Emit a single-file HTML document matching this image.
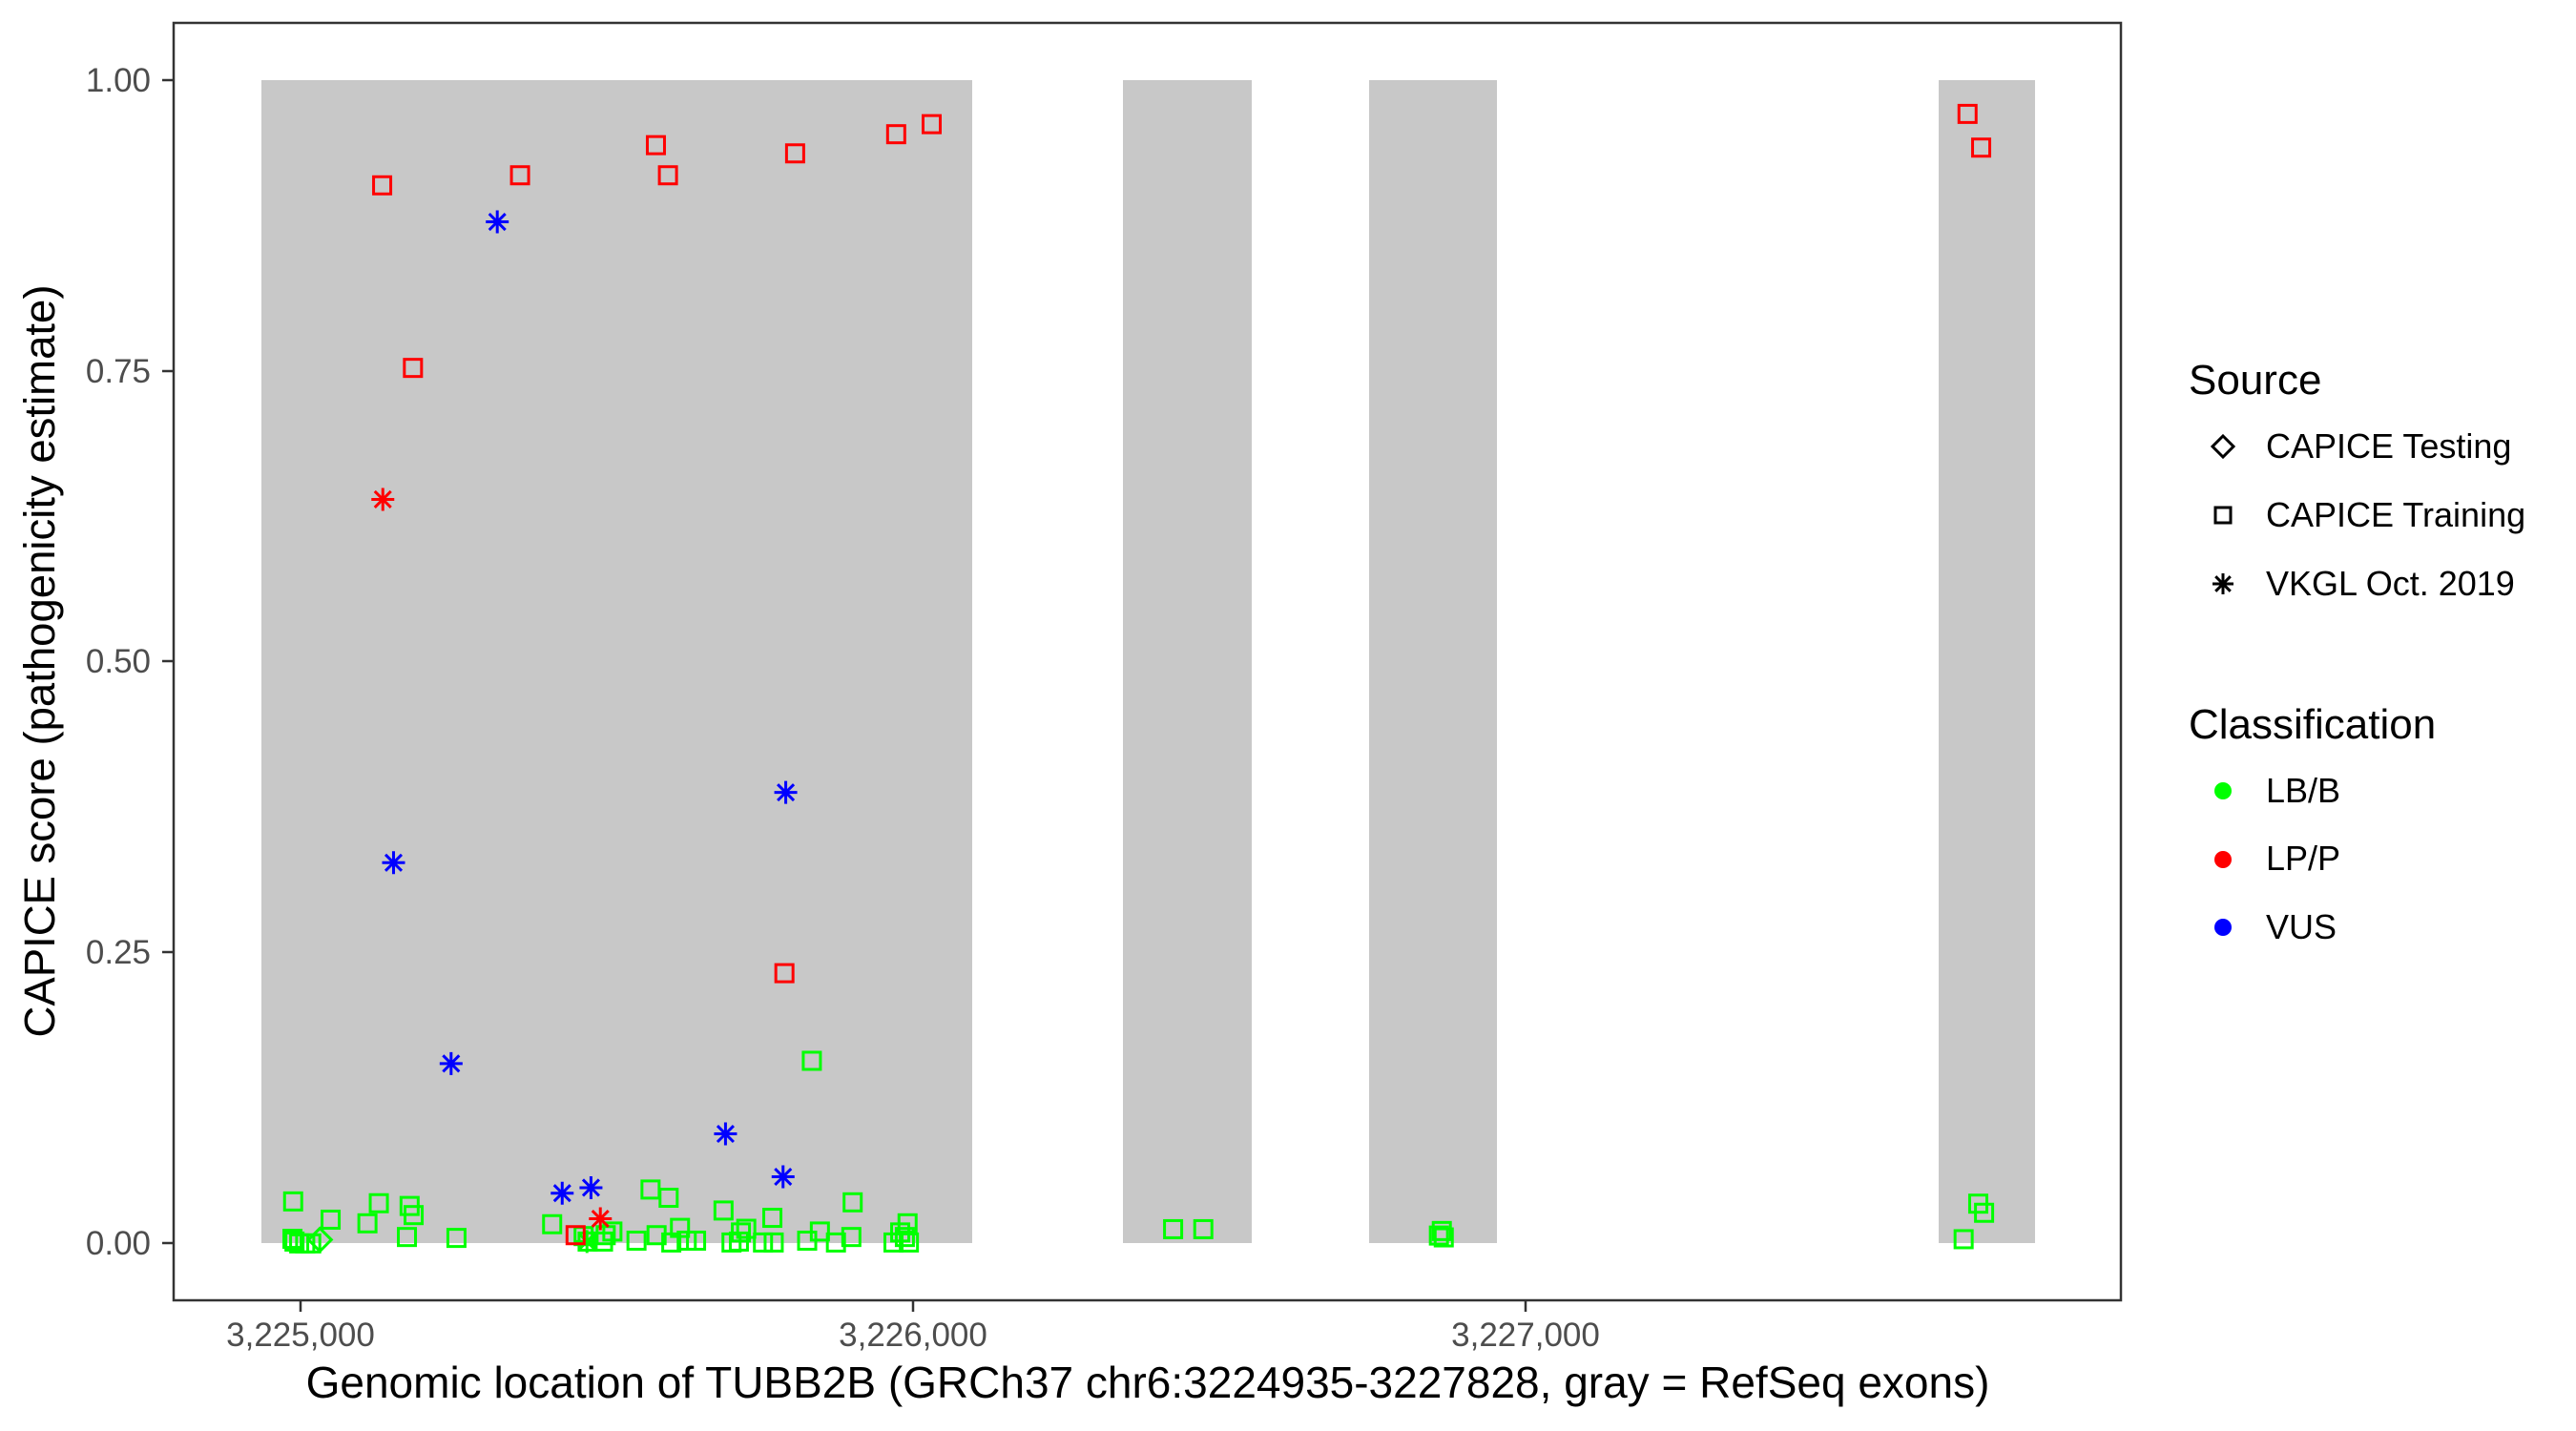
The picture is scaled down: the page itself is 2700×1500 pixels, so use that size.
<!DOCTYPE html>
<html><head><meta charset="utf-8"><style>
html,body{margin:0;padding:0;background:#fff;}
svg{display:block;font-family:"Liberation Sans",Arial,sans-serif;}
</style></head><body>
<svg id="s" width="2700" height="1500" xmlns="http://www.w3.org/2000/svg">
<rect x="0" y="0" width="2700" height="1500" fill="#fff"/>
<g fill="#c8c8c8">
<rect x="274" y="84" width="745" height="1219"/>
<rect x="1177" y="84" width="135" height="1219"/>
<rect x="1435" y="84" width="134" height="1219"/>
<rect x="2032" y="84" width="101" height="1219"/>
</g>
<g id="pts"></g>
<rect x="182" y="24" width="2041" height="1339" fill="none" stroke="#333" stroke-width="2.5"/>
<g stroke="#333" stroke-width="2.5">
<line x1="170" y1="84" x2="182" y2="84"/><line x1="170" y1="389" x2="182" y2="389"/>
<line x1="170" y1="693" x2="182" y2="693"/><line x1="170" y1="998" x2="182" y2="998"/>
<line x1="170" y1="1303" x2="182" y2="1303"/>
<line x1="315" y1="1363" x2="315" y2="1375"/><line x1="957" y1="1363" x2="957" y2="1375"/>
<line x1="1599" y1="1363" x2="1599" y2="1375"/>
</g>
<g fill="#4d4d4d" font-size="35" text-anchor="end">
<text x="158" y="96">1.00</text><text x="158" y="401">0.75</text>
<text x="158" y="705">0.50</text><text x="158" y="1010">0.25</text>
<text x="158" y="1315">0.00</text>
</g>
<g fill="#4d4d4d" font-size="35" text-anchor="middle">
<text x="315" y="1411">3,225,000</text><text x="957" y="1411">3,226,000</text><text x="1599" y="1411">3,227,000</text>
</g>
<text x="1203" y="1465" font-size="46" text-anchor="middle" fill="#000">Genomic location of TUBB2B (GRCh37 chr6:3224935-3227828, gray = RefSeq exons)</text>
<text transform="translate(57,693) rotate(-90)" font-size="45.5" text-anchor="middle" fill="#000">CAPICE score (pathogenicity estimate)</text>
<g font-size="44" fill="#000"><text x="2294" y="413">Source</text><text x="2294" y="774">Classification</text></g>
<g font-size="36" fill="#000">
<text x="2375" y="480">CAPICE Testing</text><text x="2375" y="552">CAPICE Training</text><text x="2375" y="624">VKGL Oct. 2019</text>
<text x="2375" y="841">LB/B</text><text x="2375" y="912">LP/P</text><text x="2375" y="984">VUS</text>
</g>
<g id="leg"></g>
</svg>
<script>
var NS="http://www.w3.org/2000/svg";
function el(p,t,a){var e=document.createElementNS(NS,t);for(var k in a)e.setAttribute(k,a[k]);p.appendChild(e);return e;}
var G=document.getElementById("pts"),L=document.getElementById("leg");
function sq(p,x,y,c,s){s=s||9;el(p,"rect",{x:x-s,y:y-s,width:2*s,height:2*s,fill:"none",stroke:c,"stroke-width":3});}
function di(p,x,y,c,s){s=s||12;el(p,"polygon",{points:(x)+","+(y-s)+" "+(x+s)+","+y+" "+x+","+(y+s)+" "+(x-s)+","+y,fill:"none",stroke:c,"stroke-width":3});}
function ast(p,x,y,c,s){s=s||12;var d=s*0.707;
el(p,"path",{d:"M"+(x-s)+" "+y+"H"+(x+s)+"M"+x+" "+(y-s)+"V"+(y+s)+"M"+(x-d)+" "+(y-d)+"L"+(x+d)+" "+(y+d)+"M"+(x-d)+" "+(y+d)+"L"+(x+d)+" "+(y-d),stroke:c,"stroke-width":3,fill:"none"});}
function z1(a){return [a[0]/1.4255,a[1]/1.045];}
function z2(a){return [1100+a[0]/0.98,a[1]/1.047];}
var R="#ff0000",B="#0000ff",Gn="#00ff00";
var gsq=[[438,1316],[437,1357],[440,1360],[447,1362],[456,1362],[465,1362],[494,1336],[549,1340],[566,1318],[612,1321],[618,1331],[608,1355],[682,1356],[825,1341],[872,1354],[878,1360],[905,1353],[915,1349],[901,1360],[951,1359],[972,1303],[981,1353],[999,1312],[1003,1361],[1016,1345],[1026,1359],[1040,1359],[1081,1326],[1093,1361],[1104,1360],[1107,1350],[1115,1346],[1140,1361],[1154,1334],[1156,1361],[1206,1359],[1213,1162],[1225,1349],[1249,1361],[1272,1355],[1274,1317],[1335,1361],[1345,1350],[1356,1340],[1358,1361],[1352,1355]];
gsq.forEach(function(a){var p=z1(a);sq(G,p[0],p[1],Gn);});
[[127,1349],[158,1349],[403,1351],[405,1358],[400,1356],[954,1321],[960,1331],[939,1360]].forEach(function(a){var p=z2(a);sq(G,p[0],p[1],Gn);});
var p=z1([478,1358]);di(G,p[0],p[1],Gn);
p=z1([877,1360]);ast(G,p[0],p[1],Gn);
[[571,203],[777,192],[980,159],[998,192],[1188,168],[1339,147],[1392,136],[617,403],[1172,1066],[860,1353]].forEach(function(a){var p=z1(a);sq(G,p[0],p[1],R);});
[[943,125],[957,162]].forEach(function(a){var p=z2(a);sq(G,p[0],p[1],R);});
[[572,547],[897,1335]].forEach(function(a){var p=z1(a);ast(G,p[0],p[1],R);});
[[743,243],[588,945],[674,1165],[840,1307],[883,1301],[1084,1242],[1174,868],[1170,1289]].forEach(function(a){var p=z1(a);ast(G,p[0],p[1],B);});
di(L,2330,468,"#000",11);sq(L,2330,540,"#000",8);ast(L,2330,612,"#000",11);
el(L,"circle",{cx:2330,cy:829,r:9,fill:Gn});el(L,"circle",{cx:2330,cy:901,r:9,fill:R});el(L,"circle",{cx:2330,cy:972,r:9,fill:B});
</script>
</body></html>
